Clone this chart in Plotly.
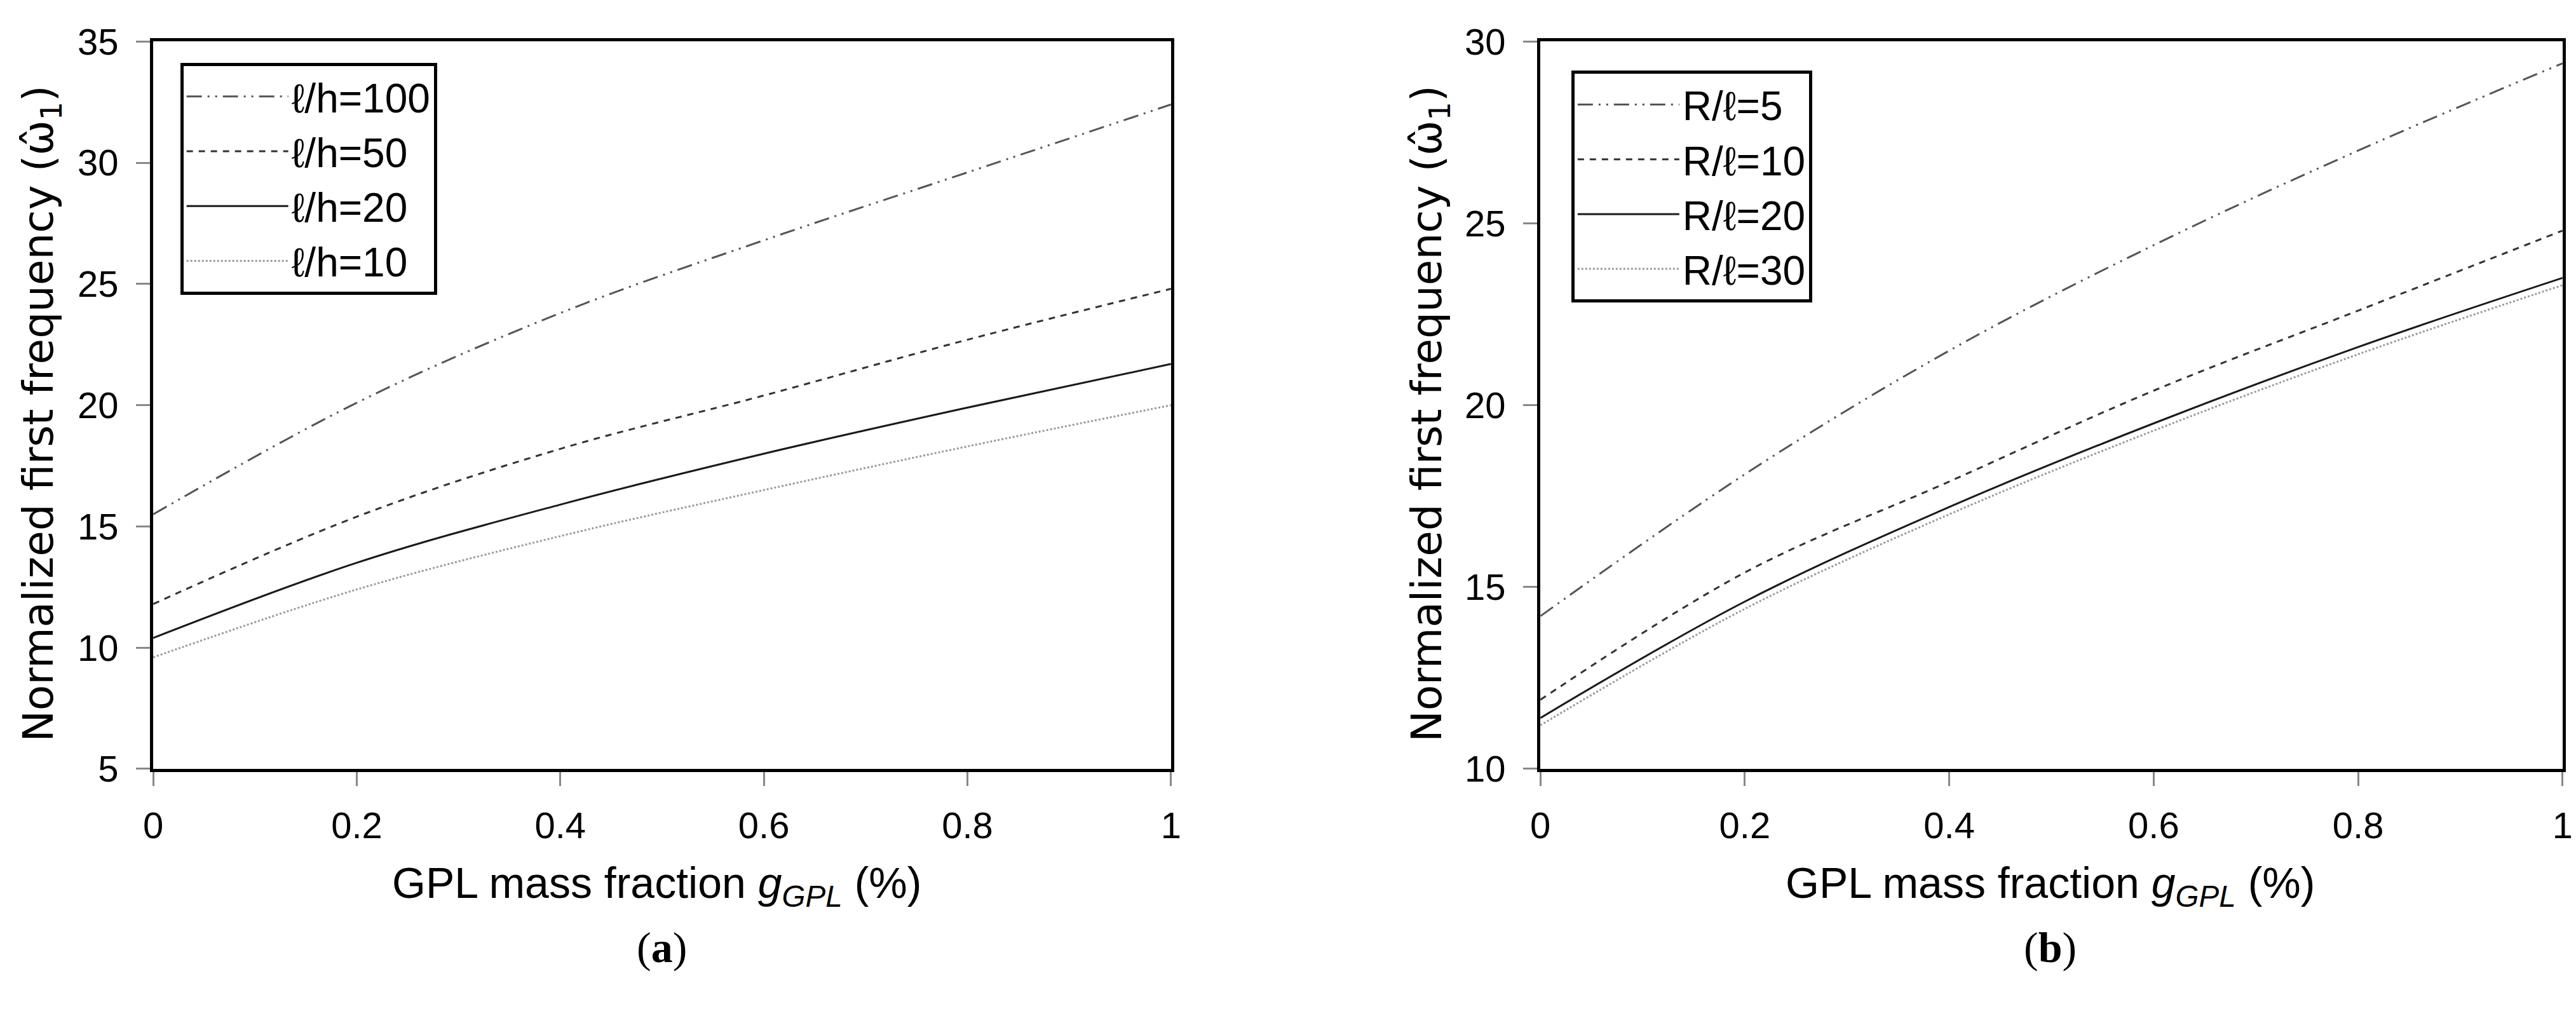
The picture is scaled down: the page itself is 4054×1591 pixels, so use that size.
import plotly.graph_objects as go

# GPL mass fraction (%)
g_gpl = [0, 0.2, 0.4, 0.6, 0.8, 1.0]

# (a) effect of l/h
lh_names = ["ℓ/h=100", "ℓ/h=50", "ℓ/h=20", "ℓ/h=10"]
lh_100 = [15.5, 20.1, 23.8, 26.8, 29.6, 32.4]
lh_50 = [11.8, 15.4, 18.2, 20.4, 22.7, 24.8]
lh_20 = [10.4, 13.5, 15.9, 18.0, 19.9, 21.7]
lh_10 = [9.6, 12.4, 14.6, 16.5, 18.3, 20.0]

# (b) effect of R/l
rl_names = ["R/ℓ=5", "R/ℓ=10", "R/ℓ=20", "R/ℓ=30"]
rl_5 = [14.2, 18.1, 21.5, 24.4, 27.0, 29.4]
rl_10 = [11.9, 15.4, 17.9, 20.4, 22.6, 24.8]
rl_20 = [11.4, 14.6, 17.2, 19.5, 21.6, 23.5]
rl_30 = [11.2, 14.4, 17.0, 19.3, 21.4, 23.3]

x_ticks = [0, 0.2, 0.4, 0.6, 0.8, 1]
x_ticktext = ["0", "0.2", "0.4", "0.6", "0.8", "1"]

styles = [
    dict(color="#555555", dash="24px,9px,3px,9px,3px,9px", width=3),
    dict(color="#333333", dash="10px,9px", width=3),
    dict(color="#1a1a1a", dash="solid", width=3),
    dict(color="#9a9a9a", dash="3px,3px", width=3),
]

narrow = "Liberation Sans Narrow, Liberation Sans, Arial, sans-serif"
plain = "DejaVu Sans, Liberation Sans, sans-serif"

fig = go.Figure()
for name, ys, st in zip(lh_names, [lh_100, lh_50, lh_20, lh_10], styles):
    fig.add_trace(go.Scatter(x=g_gpl, y=ys, mode="lines", name=name, line=dict(shape="spline", **st),
                             xaxis="x", yaxis="y", legend="legend"))
for name, ys, st in zip(rl_names, [rl_5, rl_10, rl_20, rl_30], styles):
    fig.add_trace(go.Scatter(x=g_gpl, y=ys, mode="lines", name=name, line=dict(shape="spline", **st),
                             xaxis="x2", yaxis="y2", legend="legend2"))

ax_common = dict(showline=True, mirror=True, linecolor="black", linewidth=5, showgrid=False, zeroline=False,
                 ticks="outside", ticklen=22, tickwidth=3, tickcolor="#888888", automargin=False,
                 tickfont=dict(family=narrow, size=58, color="black"))

leg_common = dict(xanchor="left", yanchor="top", bordercolor="black", borderwidth=5,
                  bgcolor="white", itemwidth=160, tracegroupgap=0,
                  font=dict(family=narrow, size=64, color="black"))

xt_text = "GPL mass fraction <i>g</i><sub><i>GPL</i></sub> (%)"
yt_text = "Normalized first frequency (ω̂<sub>1</sub>)"
xt_font = dict(family=narrow, size=68, color="black")
yt_font = dict(family=plain, size=66, color="black")
lab_font = dict(family="Liberation Serif, Times New Roman, serif", size=68, color="black")

fig.update_layout(
    width=4054, height=1591,
    margin=dict(l=0, r=0, t=0, b=0),
    paper_bgcolor="white", plot_bgcolor="white",
    xaxis=dict(domain=[0.0575, 0.4526], range=[0, 1], tickvals=x_ticks, ticktext=x_ticktext,
               ticklabelstandoff=12, anchor="y", **ax_common),
    yaxis=dict(domain=[0.2445, 0.964], range=[5, 35], dtick=5, ticklabelstandoff=16, anchor="x", **ax_common),
    xaxis2=dict(domain=[0.596, 0.9928], range=[0, 1], tickvals=x_ticks, ticktext=x_ticktext,
                ticklabelstandoff=12, anchor="y2", **ax_common),
    yaxis2=dict(domain=[0.2445, 0.964], range=[10, 30], dtick=5, ticklabelstandoff=16, anchor="x2", **ax_common),
    legend=dict(x=0.068, y=0.943, **leg_common),
    legend2=dict(x=0.608, y=0.935, **leg_common),
    annotations=[
        dict(text=yt_text, textangle=-90, x=0.014, y=0.596, xref="paper", yref="paper", showarrow=False,
             xanchor="center", yanchor="middle", font=yt_font),
        dict(text=yt_text, textangle=-90, x=0.553, y=0.596, xref="paper", yref="paper", showarrow=False,
             xanchor="center", yanchor="middle", font=yt_font),
        dict(text=xt_text, x=0.253, y=0.129, xref="paper", yref="paper", showarrow=False,
             xanchor="center", yanchor="middle", font=xt_font),
        dict(text=xt_text, x=0.794, y=0.129, xref="paper", yref="paper", showarrow=False,
             xanchor="center", yanchor="middle", font=xt_font),
        dict(text="(<b>a</b>)", x=0.255, y=0.068, xref="paper", yref="paper", showarrow=False,
             xanchor="center", yanchor="middle", font=lab_font),
        dict(text="(<b>b</b>)", x=0.794, y=0.068, xref="paper", yref="paper", showarrow=False,
             xanchor="center", yanchor="middle", font=lab_font),
    ],
)

fig.write_html("out.html")
